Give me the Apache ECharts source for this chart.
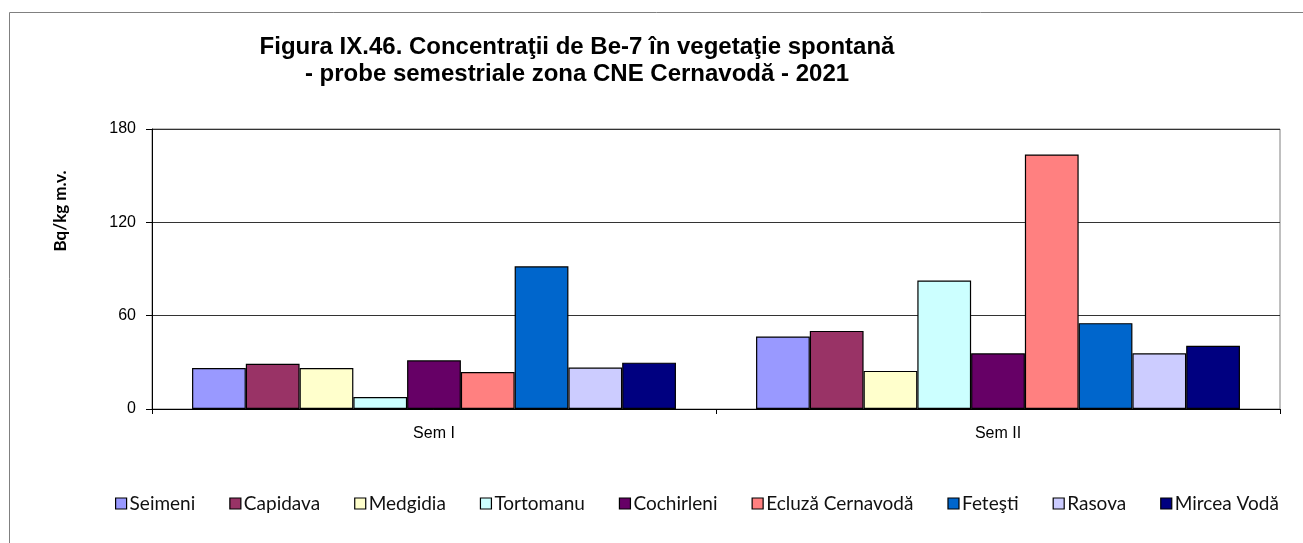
<!DOCTYPE html>
<html>
<head>
<meta charset="utf-8">
<script src="https://cdn.jsdelivr.net/npm/echarts@6/dist/echarts.min.js"></script>
<style>
  html, body { margin: 0; padding: 0; background: #fff; }
  #chart { width: 1303px; height: 543px; }
</style>
</head>
<body>
<div id="chart"></div>
<script>
// Semesters on the category axis
const categories = ['Sem I', 'Sem II'];

// Sampling stations (one bar per station in each semester)
const stations = ['Seimeni', 'Capidava', 'Medgidia', 'Tortomanu', 'Cochirleni',
                  'Ecluză Cernavodă', 'Feteşti', 'Rasova', 'Mircea Vodă'];

// Be-7 concentration, Bq/kg m.v., [Sem I, Sem II]
const seimeni     = [26.4, 46.6];
const capidava    = [29.1, 50.2];
const medgidia    = [26.4, 24.5];
const tortomanu   = [7.7, 82.6];
const cochirleni  = [31.3, 35.8];
const ecluza      = [23.8, 163.6];
const fetesti     = [91.7, 55.2];
const rasova      = [26.6, 35.8];
const mirceaVoda  = [29.8, 40.6];

const stationValues = [seimeni, capidava, medgidia, tortomanu, cochirleni,
                       ecluza, fetesti, rasova, mirceaVoda];

const stationColors = ['#9999FF', '#993366', '#FFFFCC', '#CCFFFF', '#660066',
                       '#FF8080', '#0066CC', '#CCCCFF', '#000080'];

const yTicks = [0, 60, 120, 180];

const chart = echarts.init(document.getElementById('chart'), null, { renderer: 'canvas' });

const series = stations.map((name, i) => ({
  name: name,
  type: 'bar',
  data: stationValues[i],
  barGap: '0%',
  barCategoryGap: '14.2%',
  itemStyle: { color: stationColors[i], borderColor: '#000', borderWidth: 1.2 },
  emphasis: { disabled: true },
  animation: false
}));

chart.setOption({
  backgroundColor: '#fff',
  animation: false,
  title: {
    text: 'Figura IX.46. Concentraţii de Be-7 în vegetaţie spontană\n- probe semestriale zona CNE Cernavodă - 2021',
    left: 572,
    top: 29,
    textAlign: 'center',
    textStyle: {
      fontFamily: 'Liberation Sans, Arial, sans-serif',
      fontWeight: 'bold',
      fontSize: 24,
      lineHeight: 27,
      color: '#000'
    }
  },
  graphic: [
    {
      type: 'rect',
      silent: true,
      shape: { x: 9.5, y: 12.5, width: 1310, height: 560 },
      style: { fill: 'none', stroke: '#808080', lineWidth: 1 }
    },
    {
      type: 'text',
      silent: true,
      x: 61,
      y: 211,
      rotation: Math.PI / 2,
      style: {
        text: 'Bq/kg m.v.',
        fontFamily: 'Lato, sans-serif',
        fontWeight: 'bold',
        fontSize: 17,
        fill: '#000',
        align: 'center',
        verticalAlign: 'middle'
      }
    }
  ],
  legend: {
    data: stations,
    left: 115,
    top: 494,
    padding: 0,
    itemWidth: 11,
    itemHeight: 11,
    itemGap: 34,
    icon: 'rect',
    selectedMode: false,
    textStyle: {
      fontFamily: 'Lato, sans-serif',
      fontSize: 19,
      color: '#111',
      padding: [0, 0, 0, -2]
    },
    itemStyle: { borderColor: '#000', borderWidth: 1.2 }
  },
  grid: {
    left: 152,
    right: 23,
    top: 129,
    bottom: 134,
    show: true,
    borderColor: '#808080',
    borderWidth: 1,
    containLabel: false
  },
  xAxis: {
    type: 'category',
    data: categories,
    axisLine: { lineStyle: { color: '#000', width: 1 } },
    axisTick: { show: true, length: 5, lineStyle: { color: '#000' } },
    axisLabel: {
      fontFamily: 'Liberation Sans, Arial, sans-serif',
      fontSize: 16,
      color: '#000',
      margin: 17
    },
    splitLine: { show: false }
  },
  yAxis: {
    type: 'value',
    min: yTicks[0],
    max: yTicks[yTicks.length - 1],
    interval: yTicks[1] - yTicks[0],
    axisLine: { show: true, lineStyle: { color: '#000', width: 1 } },
    axisTick: { show: true, length: 6, lineStyle: { color: '#000' } },
    axisLabel: {
      fontFamily: 'Liberation Sans, Arial, sans-serif',
      fontSize: 16,
      color: '#000',
      margin: 16
    },
    splitLine: { show: true, lineStyle: { color: '#333', width: 1 } }
  },
  tooltip: { show: false },
  series: series
});
</script>
</body>
</html>
